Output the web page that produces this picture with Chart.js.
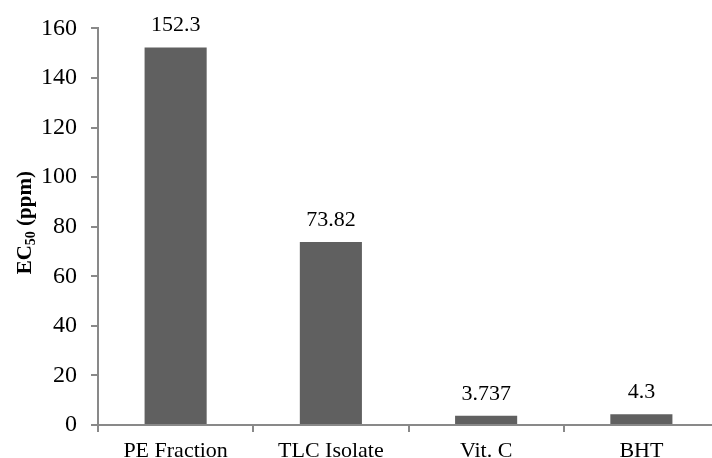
<!DOCTYPE html>
<html>
<head>
<meta charset="utf-8">
<script src="https://cdn.jsdelivr.net/npm/chart.js@4/dist/chart.umd.min.js"></script>
<style>
  html, body { margin: 0; padding: 0; background: #fff; overflow: hidden; }
  #wrap { width: 719px; height: 458px; }
</style>
</head>
<body>
<div id="wrap"><canvas id="graficoEC50" width="719" height="458"></canvas></div>
<script>
const categorias = ['PE Fraction', 'TLC Isolate', 'Vit. C', 'BHT'];
const valoresEC50 = [152.3, 73.82, 3.737, 4.3];
const rotulosValores = ['152.3', '73.82', '3.737', '4.3'];
const yMin = 0, yMax = 160, yPasso = 20;

const serif = '"Liberation Serif", "Times New Roman", serif';
const corEixo = '#898989';

// rotulos de dados acima de cada barra
const rotulosPlugin = {
    id: 'rotulos',
    afterDatasetsDraw(chart) {
        const ctx = chart.ctx;
        const meta = chart.getDatasetMeta(0);
        ctx.save();
        ctx.font = '22px ' + serif;
        ctx.fillStyle = '#000';
        ctx.textAlign = 'center';
        ctx.textBaseline = 'alphabetic';
        meta.data.forEach(function (barra, i) {
            ctx.fillText(rotulosValores[i], barra.x, barra.y - 16);
        });
        ctx.restore();
    }
};

// titulo do eixo y com subscrito
const tituloYPlugin = {
    id: 'tituloY',
    afterDraw(chart) {
        const ctx = chart.ctx;
        const area = chart.chartArea;
        const fGrande = 'bold 21px ' + serif;
        const fPequeno = 'bold 14px ' + serif;
        ctx.save();
        ctx.font = fGrande;
        const w1 = ctx.measureText('EC').width;
        const w3 = ctx.measureText(' (ppm)').width;
        ctx.font = fPequeno;
        const w2 = ctx.measureText('50').width;
        const total = w1 + w2 + w3;
        const cy = (area.top + area.bottom) / 2 - 4;
        ctx.translate(31, cy + total / 2);
        ctx.rotate(-Math.PI / 2);
        ctx.fillStyle = '#000';
        ctx.textBaseline = 'alphabetic';
        ctx.textAlign = 'left';
        ctx.font = fGrande;
        ctx.fillText('EC', 0, 0);
        ctx.font = fPequeno;
        ctx.fillText('50', w1, 4);
        ctx.font = fGrande;
        ctx.fillText(' (ppm)', w1 + w2, 0);
        ctx.restore();
    }
};

const config = {
    type: 'bar',
    data: {
        labels: categorias,
        datasets: [{
            data: valoresEC50,
            backgroundColor: '#606060',
            borderWidth: 0,
            barPercentage: 0.4,
            categoryPercentage: 1.0
        }]
    },
    options: {
        responsive: false,
        animation: false,
        layout: { padding: { top: 25, left: 0, right: 0, bottom: 0 } },
        plugins: {
            legend: { display: false },
            tooltip: { enabled: false }
        },
        scales: {
            x: {
                grid: {
                    drawOnChartArea: false,
                    drawTicks: true,
                    tickLength: 7,
                    color: corEixo,
                    lineWidth: 2
                },
                border: { color: corEixo, width: 2 },
                ticks: {
                    color: '#000',
                    font: { family: serif, size: 22 },
                    padding: 6,
                    maxRotation: 0
                },
                afterFit: function (scale) { scale.height = 33; }
            },
            y: {
                min: yMin,
                max: yMax,
                grid: {
                    drawOnChartArea: false,
                    drawTicks: true,
                    tickLength: 7,
                    color: corEixo,
                    lineWidth: 2
                },
                border: { color: corEixo, width: 2 },
                ticks: {
                    stepSize: yPasso,
                    color: '#000',
                    font: { family: serif, size: 24 },
                    padding: 14
                },
                afterFit: function (scale) { scale.width = 98; }
            }
        }
    },
    plugins: [rotulosPlugin, tituloYPlugin]
};

var graficoEC50 = new Chart(document.getElementById('graficoEC50'), config);
</script>
</body>
</html>
